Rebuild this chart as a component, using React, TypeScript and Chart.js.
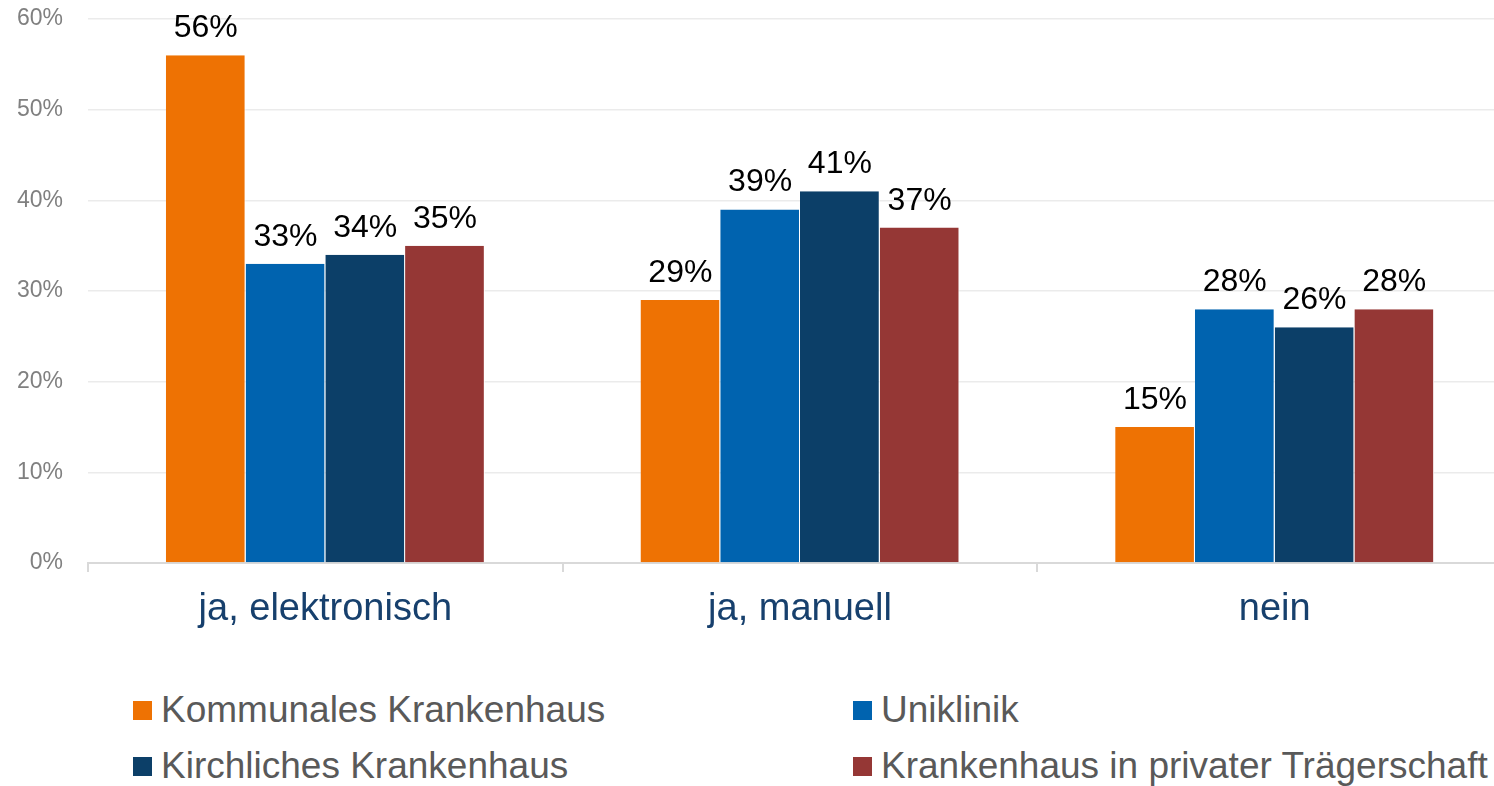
import React, { useEffect, useRef } from "react";
import { Chart, registerables } from "chart.js";

Chart.register(...registerables);

const categories = ["ja, elektronisch", "ja, manuell", "nein"];
const seriesNames = [
  "Kommunales Krankenhaus",
  "Uniklinik",
  "Kirchliches Krankenhaus",
  "Krankenhaus in privater Trägerschaft",
];
const kommunal = [56, 29, 15];
const uniklinik = [33, 39, 28];
const kirchlich = [34, 41, 26];
const privat = [35, 37, 28];
const seriesColors = ["#EE7203", "#0063AF", "#0C3F68", "#953735"];
const yTickValues = [0, 10, 20, 30, 40, 50, 60];

const FONT = "'Liberation Sans', Arial, sans-serif";

const labelPlugin = {
  id: "barLabels",
  afterDatasetsDraw(chart: any) {
    const ctx = chart.ctx;
    ctx.save();
    ctx.font = `32px ${FONT}`;
    ctx.fillStyle = "#000000";
    ctx.textAlign = "center";
    ctx.textBaseline = "alphabetic";
    chart.data.datasets.forEach((ds: any, i: number) => {
      const meta = chart.getDatasetMeta(i);
      meta.data.forEach((bar: any, j: number) => {
        ctx.fillText(`${ds.data[j]}%`, bar.x, bar.y - 18);
      });
    });
    ctx.restore();
  },
};

export default function App() {
  const ref = useRef<HTMLCanvasElement>(null);

  useEffect(() => {
    const values = [kommunal, uniklinik, kirchlich, privat];
    const chart = new Chart(ref.current!, {
      type: "bar",
      data: {
        labels: categories,
        datasets: seriesNames.map((name, i) => ({
          label: name,
          data: values[i],
          backgroundColor: seriesColors[i],
          borderColor: "#ffffff",
          borderWidth: { left: 0, right: 1, top: 0, bottom: 0 },
          borderSkipped: false,
          categoryPercentage: 0.672,
          barPercentage: 1,
        })),
      },
      options: {
        responsive: false,
        animation: false,
        layout: { padding: { top: 19, right: 0, left: 0, bottom: 0 } },
        plugins: {
          legend: { display: false },
          tooltip: { enabled: false },
        },
        scales: {
          x: {
            grid: {
              offset: true,
              drawOnChartArea: false,
              drawTicks: true,
              tickLength: 9,
              color: "#d9d9d9",
              lineWidth: 2,
            },
            border: { display: true, color: "#d9d9d9", width: 2 },
            ticks: {
              color: "#17406D",
              font: { family: FONT, size: 38 },
              padding: 15,
            },
            afterFit: (scale: any) => {
              scale.height = 97;
              scale.paddingLeft = 0;
              scale.paddingRight = 0;
            },
          },
          y: {
            min: 0,
            max: 60,
            afterBuildTicks: (scale: any) => {
              scale.ticks = yTickValues.map((v) => ({ value: v }));
            },
            grid: { color: "#ebebeb", lineWidth: 1.5, drawTicks: false },
            border: { display: false },
            ticks: {
              color: "#808080",
              font: { family: FONT, size: 23 },
              padding: 25,
              callback: (v: any) => `${v}%`,
            },
            afterFit: (scale: any) => {
              scale.width = 88;
              scale.paddingTop = 0;
              scale.paddingBottom = 0;
            },
          },
        },
      },
      plugins: [labelPlugin],
    });
    return () => chart.destroy();
  }, []);

  const legendItems = [
    { i: 0, sq: [133, 701], tx: [161, 689] },
    { i: 1, sq: [853, 701], tx: [881, 689] },
    { i: 2, sq: [133, 757], tx: [161, 745] },
    { i: 3, sq: [853, 757], tx: [881, 745] },
  ];

  return (
    <div
      style={{
        position: "fixed",
        left: 0,
        top: 0,
        width: 1494,
        height: 786,
        overflow: "hidden",
        background: "#ffffff",
      }}
    >
      <canvas
        ref={ref}
        width={1512}
        height={660}
        style={{ position: "absolute", left: 0, top: 0, width: 1512, height: 660 }}
      />
      {legendItems.map((it) => (
        <React.Fragment key={it.i}>
          <div
            style={{
              position: "absolute",
              left: it.sq[0],
              top: it.sq[1],
              width: 19,
              height: 19,
              background: seriesColors[it.i],
            }}
          />
          <div
            style={{
              position: "absolute",
              left: it.tx[0],
              top: it.tx[1],
              fontFamily: FONT,
              fontSize: 37,
              color: "#595959",
              whiteSpace: "nowrap",
            }}
          >
            {seriesNames[it.i]}
          </div>
        </React.Fragment>
      ))}
    </div>
  );
}
